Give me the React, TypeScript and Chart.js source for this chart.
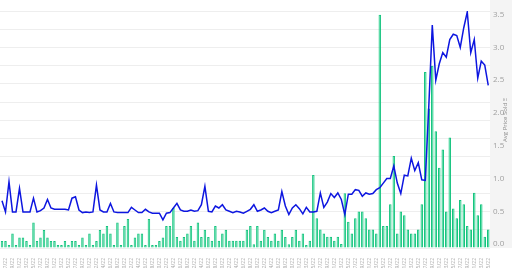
import React, { useEffect, useRef } from 'react';
import { Chart, registerables } from 'chart.js';

Chart.register(...registerables);

const dateLabels: string[] = [
  '1/6/22','1/7/22','1/8/22','1/9/22','1/10/22','1/11/22','1/12/22','1/13/22','1/14/22','1/15/22','1/16/22','1/17/22','1/18/22','1/19/22','1/20/22','1/21/22','1/22/22','1/23/22','1/24/22','1/25/22','1/26/22','1/27/22','1/28/22','1/29/22','1/30/22','1/31/22',
  '2/1/22','2/2/22','2/3/22','2/4/22','2/5/22','2/6/22','2/7/22','2/8/22','2/9/22','2/10/22','2/11/22','2/12/22','2/13/22','2/14/22','2/15/22','2/16/22','2/17/22','2/18/22','2/19/22','2/20/22','2/21/22','2/22/22','2/23/22','2/24/22','2/25/22','2/26/22','2/27/22','2/28/22',
  '3/1/22','3/2/22','3/3/22','3/4/22','3/5/22','3/6/22','3/7/22','3/8/22','3/9/22','3/10/22','3/11/22','3/12/22','3/13/22','3/14/22','3/15/22','3/16/22','3/17/22','3/18/22','3/19/22','3/20/22','3/21/22','3/22/22','3/23/22','3/24/22','3/25/22','3/26/22','3/27/22','3/28/22','3/29/22','3/30/22','3/31/22',
  '4/1/22','4/2/22','4/3/22','4/4/22','4/5/22','4/6/22','4/7/22','4/8/22','4/9/22','4/10/22','4/11/22','4/12/22','4/13/22','4/14/22','4/15/22','4/16/22','4/17/22','4/18/22','4/19/22','4/20/22','4/21/22','4/22/22','4/23/22','4/24/22','4/25/22','4/26/22','4/27/22','4/28/22','4/29/22','4/30/22',
  '5/1/22','5/2/22','5/3/22','5/4/22','5/5/22','5/6/22','5/7/22','5/8/22','5/9/22','5/10/22','5/11/22','5/12/22','5/13/22','5/14/22','5/15/22','5/16/22','5/17/22','5/18/22','5/19/22','5/20/22','5/21/22','5/22/22','5/23/22','5/24/22','5/25/22',
];

const volumeSold: number[] = [
  3.8, 3.8, 1.6, 8.0, 1.6, 5.8, 5.8, 3.8, 1.6, 14, 3.8, 5.8, 9.9, 5.8, 3.8, 3.8, 1.6, 1.6, 3.8, 1.6,
  3.8, 3.8, 1.6, 5.8, 1.6, 8.0, 1.6, 3.8, 9.9, 8.0, 12, 8.0, 1.6, 14, 1.6, 12, 15.9, 1.6, 5.8, 8.0,
  8.0, 1.6, 15.9, 1.6, 1.6, 3.8, 5.8, 12, 12,
  22, 6, 4, 6, 8, 12, 4, 14, 6, 10, 6, 4, 12, 4, 8, 10, 4, 4, 4, 4, 4, 10, 12, 2, 12, 4, 10, 6, 4, 8,
  4, 10, 6, 2, 6, 10,
  4.0, 8.0, 1.6, 4.0, 40, 16.3, 10.2, 8.0, 6.2, 6.2, 4.0, 6.2, 2.2, 30, 14.4, 8.0, 16.3, 20, 20, 16.3,
  10.2, 10.2, 8.0, 128, 12, 12, 24, 50.4, 8.0, 20, 18, 10.2, 8.0, 8.0, 10.2, 24, 96.6, 76.5, 100, 64,
  44, 54, 20, 60.6, 21.7, 16.3, 26.3, 24, 12, 10.2, 30.3, 18, 24, 6.2, 10.2,
];

const avgPriceSold: number[] = [
  0.66, 0.49, 0.95, 0.49, 0.49, 0.85, 0.49, 0.49, 0.49, 0.70, 0.49, 0.51, 0.55, 0.68, 0.55, 0.53, 0.53, 0.53, 0.53, 0.52,
  0.70, 0.72, 0.52, 0.48, 0.49, 0.48, 0.49, 0.90, 0.52, 0.49, 0.49, 0.62, 0.49, 0.48, 0.48, 0.48, 0.48, 0.56, 0.52, 0.48,
  0.48, 0.53, 0.49, 0.47, 0.47, 0.47, 0.37, 0.47, 0.48,
  0.55, 0.62, 0.52, 0.50, 0.50, 0.52, 0.50, 0.51, 0.60, 0.88, 0.50, 0.49, 0.58, 0.55, 0.60, 0.52, 0.50, 0.48, 0.50, 0.49,
  0.47, 0.50, 0.53, 0.60, 0.50, 0.52, 0.55, 0.50, 0.48, 0.50, 0.52, 0.80, 0.58, 0.45, 0.55, 0.60,
  0.54, 0.46, 0.56, 0.49, 0.49, 0.50, 0.78, 0.56, 0.64, 0.77, 0.71, 0.78, 0.68, 0.45, 0.76, 0.76, 0.83, 0.82, 0.73, 0.78,
  0.76, 0.77, 0.83, 0.86, 0.93, 1.0, 1.0, 1.19, 0.93, 0.77, 1.05, 1.04, 1.31, 1.12, 1.24, 0.98, 0.97, 2.1, 3.34, 2.5,
  2.75, 2.92, 2.85, 3.12, 3.2, 3.18, 3.0, 3.3, 3.54, 2.92, 3.12, 2.53, 2.79, 2.73, 2.42,
];

const priceTicks: number[] = [0, 0.5, 1.0, 1.5, 2.0, 2.5, 3.0, 3.5];
const axisTitle = 'Avg Price Sold Ξ';

export default function App() {
  const ref = useRef<HTMLCanvasElement | null>(null);

  useEffect(() => {
    if (!ref.current) return;
    const panelPlugin = {
      id: 'rightPanel',
      beforeDraw(chart: any) {
        const { ctx, chartArea, width } = chart;
        ctx.save();
        ctx.fillStyle = '#f4f4f4';
        ctx.fillRect(chartArea.right, 0, width - chartArea.right, chartArea.bottom);
        ctx.restore();
      },
      afterDraw(chart: any) {
        const { ctx, width } = chart;
        ctx.save();
        ctx.translate(width - 7, 120);
        ctx.rotate(-Math.PI / 2);
        ctx.font = '6px "Open Sans"';
        ctx.fillStyle = '#8a8a8a';
        ctx.textAlign = 'center';
        ctx.textBaseline = 'middle';
        ctx.fillText(axisTitle, 0, 0);
        ctx.restore();
      },
    };

    const chart = new Chart(ref.current, {
      type: 'bar',
      data: {
        labels: dateLabels,
        datasets: [
          {
            type: 'line',
            label: 'Avg Price Sold',
            data: avgPriceSold,
            yAxisID: 'yPrice',
            borderColor: '#0d16e0',
            backgroundColor: '#0d16e0',
            borderWidth: 1.5,
            pointRadius: 0,
            tension: 0,
            order: 0,
          } as any,
          {
            type: 'bar',
            label: 'Volume',
            data: volumeSold,
            yAxisID: 'yVol',
            backgroundColor: 'rgba(46, 214, 144, 0.9)',
            borderColor: '#16c47f',
            borderWidth: 1,
            categoryPercentage: 0.85,
            barPercentage: 0.85,
            order: 1,
          },
        ],
      },
      options: {
        responsive: false,
        animation: false,
        layout: { padding: { top: 11, left: 0, right: 0, bottom: 0 } },
        plugins: { legend: { display: false }, tooltip: { enabled: false } },
        scales: {
          x: {
            grid: { display: false },
            border: { display: false },
            ticks: {
              autoSkip: false,
              minRotation: 90,
              maxRotation: 90,
              padding: 2,
              color: '#a8a8a8',
              font: { size: 5, family: '"Open Sans"' },
              callback: (_v: any, i: number) => (i % 2 === 1 ? dateLabels[i] : ''),
            },
            afterFit: (s: any) => { s.height = 20; },
          },
          yVol: {
            position: 'left',
            min: 0,
            max: 130,
            ticks: { display: false, stepSize: 10 },
            grid: { color: '#eeeeee', drawTicks: false, lineWidth: 1 },
            border: { display: false },
          },
          yPrice: {
            position: 'right',
            min: -0.06,
            max: 3.555,
            grid: { display: false, drawTicks: false },
            border: { display: false },
            afterBuildTicks: (s: any) => { s.ticks = priceTicks.map((v) => ({ value: v })); },
            ticks: {
              color: '#a0a0a0',
              padding: 3,
              font: { size: 8, family: '"Open Sans"' },
              callback: (v: any) => Number(v).toFixed(1),
            },
            afterFit: (s: any) => { s.width = 22; },
          },
        },
      },
      plugins: [panelPlugin],
    });
    return () => chart.destroy();
  }, []);

  return (
    <div style={{ position: 'fixed', left: 0, top: 0, width: 512, height: 268, background: '#fff' }}>
      <canvas ref={ref} width={512} height={268} style={{ display: 'block' }} />
    </div>
  );
}
